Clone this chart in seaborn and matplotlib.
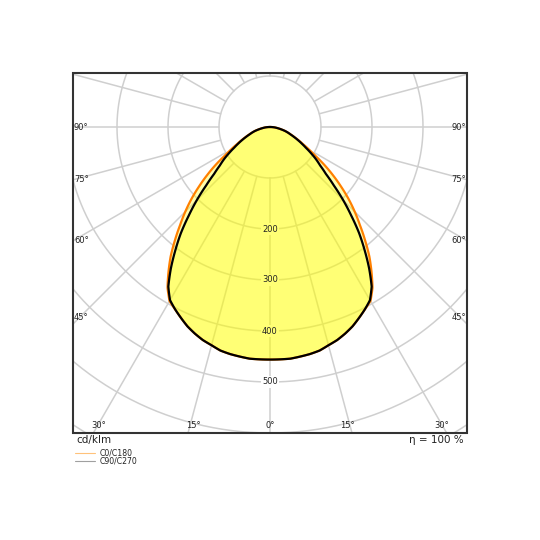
import numpy as np
import pandas as pd
import matplotlib
matplotlib.use("Agg")
import matplotlib.pyplot as plt
import seaborn as sns
from matplotlib.patches import Rectangle

# 光强分布数据 (cd/klm)，gamma 0..90° 每 2.5°，两侧对称
gamma_deg = [0, 2.5, 5, 7.5, 10, 12.5, 15, 17.5, 20, 22.5, 25, 27.5, 30, 32.5, 35, 37.5, 40, 42.5,
             45, 47.5, 50, 52.5, 55, 57.5, 60, 62.5, 65, 67.5, 70, 72.5, 75, 77.5, 80, 82.5, 85, 87.5, 90]
c0_c180 = [456, 456, 456, 454, 452, 449, 443, 438, 431, 423, 413, 403, 394, 374, 347, 320, 290, 261,
           235, 209, 182, 156, 131, 106, 88, 73, 62, 52, 44, 37, 31, 24, 18, 13, 9, 4, 0]
c90_c270 = [456, 456, 456, 454, 452, 449, 443, 438, 431, 423, 413, 403, 392, 371, 339, 305, 272, 236,
            203, 170, 143, 124, 110, 95, 81, 70, 60, 51, 43, 37, 31, 24, 18, 13, 9, 4, 0]

series_names = ["C0/C180", "C90/C270"]
series_colors = ["#ff8000", "#000000"]
radial_ticks = [200, 300, 400, 500]
angle_ticks_side = [90, 75, 60, 45]
angle_ticks_bottom = [30, 15, 0]
unit_label = "cd/klm"
eta_label = "η = 100 %"

# 画布布局（像素）
W = 540
cx, cy = 270, 127          # 极坐标中心
scale = 0.51               # 像素 / (cd/klm)
box = (73, 73, 467, 433)   # 左 上 右 下
rmax = 730

sns.set_theme(style="white")
plt.rcParams['font.family'] = ['DejaVu Sans']

fig = plt.figure(figsize=(5.4, 5.4), dpi=100)
R = rmax * scale
ax = fig.add_axes([(cx - R) / W, (W - cy - R) / W, 2 * R / W, 2 * R / W], projection="polar")
ax.set_theta_zero_location("S")
ax.set_ylim(0, rmax)
ax.grid(False)
ax.set_xticks([])
ax.set_yticks([])
ax.spines["polar"].set_visible(False)

# 网格：同心圆 + 从 r=100 开始的辐射线
grid_c = "#cfcfcf"
tt = np.linspace(0, 2 * np.pi, 400)
for rr in range(100, 800, 100):
    ax.plot(tt, np.full_like(tt, rr), color=grid_c, lw=1.1, zorder=0.5)
for a in range(0, 360, 15):
    ax.plot([np.deg2rad(a)] * 2, [100, rmax], color=grid_c, lw=1.1, zorder=0.5)

# 刻度值：白底放在填充下面，文字放在上面
for rv in radial_ticks:
    ax.text(0, rv, str(rv), ha="center", va="center", fontsize=6, color="white", alpha=0,
            bbox=dict(boxstyle="square,pad=0.15", fc="white", ec="none"), zorder=0.8)
    ax.text(0, rv, str(rv), ha="center", va="center", fontsize=6, color="#222222", zorder=3)

# 曲线数据（对称展开）
rows = []
for name, vals in zip(series_names, [c0_c180, c90_c270]):
    g = np.array(gamma_deg, dtype=float)
    v = np.array(vals, dtype=float)
    th = np.concatenate([-g[::-1], g[1:]])
    rv = np.concatenate([v[::-1], v[1:]])
    for t, r in zip(th, rv):
        rows.append({"series": name, "theta": np.deg2rad(t), "r": r})
df = pd.DataFrame(rows)

for name in series_names:
    d = df[df["series"] == name]
    for p in ax.fill(d["theta"], d["r"], color="#ffff00", alpha=0.32, lw=0, zorder=1):
        p.get_path()._interpolation_steps = 20

sns.lineplot(data=df, x="theta", y="r", hue="series", palette=dict(zip(series_names, series_colors)),
             sort=False, estimator=None, lw=1.6, legend=False, ax=ax, zorder=2)
for ln in ax.lines[-2:]:
    ln.get_path()._interpolation_steps = 20
ax.set_xlabel("")
ax.set_ylabel("")

# 覆盖层：遮挡框外区域、边框与文字
ov = fig.add_axes([0, 0, 1, 1])
ov.set_xlim(0, W)
ov.set_ylim(W, 0)
ov.axis("off")
ov.patch.set_alpha(0)
x0, y0, x1, y1 = box
for rect in [(0, 0, W, y0), (0, y1, W, W - y1), (0, 0, x0, W), (x1, 0, W - x1, W)]:
    ov.add_patch(Rectangle(rect[:2], rect[2], rect[3], fc="white", ec="none", zorder=1))
ov.add_patch(Rectangle((x0, y0), x1 - x0, y1 - y0, fc="none", ec="#333333", lw=1.5, zorder=3))

fs = 6
for a in angle_ticks_side:
    if a == 90:
        yy = cy
    else:
        yy = cy + (cx - x0) / np.tan(np.deg2rad(a))
    yy = min(yy, y1 - 115)
    ov.text(x0 + 1, yy, f"{a}°", ha="left", va="center", fontsize=fs, color="#222222", zorder=4)
    ov.text(x1 - 1, yy, f"{a}°", ha="right", va="center", fontsize=fs, color="#222222", zorder=4)
for a in angle_ticks_bottom:
    dx = (y1 - cy) * np.tan(np.deg2rad(a))
    for s in ([1, -1] if a else [1]):
        xx = cx + s * dx
        xx = xx + 5 if xx < cx else (xx - 5 if xx > cx else xx)
        ov.text(xx, y1 - 8, f"{a}°", ha="center", va="center", fontsize=fs, color="#222222", zorder=4)

ov.text(x0 + 3, y1 + 7, unit_label, ha="left", va="center", fontsize=7.5, color="#222222", zorder=4)
ov.text(x1 - 3, y1 + 7, eta_label, ha="right", va="center", fontsize=7.5, color="#222222", zorder=4)

legend_colors = ["#ffc27a", "#a0a0a0"]
for i, (name, lc) in enumerate(zip(series_names, legend_colors)):
    yy = 453 + i * 8
    ov.plot([75, 95], [yy, yy], color=lc, lw=0.8, zorder=4)
    ov.text(100, yy, name, ha="left", va="center", fontsize=5.6, color="#222222", zorder=4)

plt.savefig("out.png", dpi=100)
